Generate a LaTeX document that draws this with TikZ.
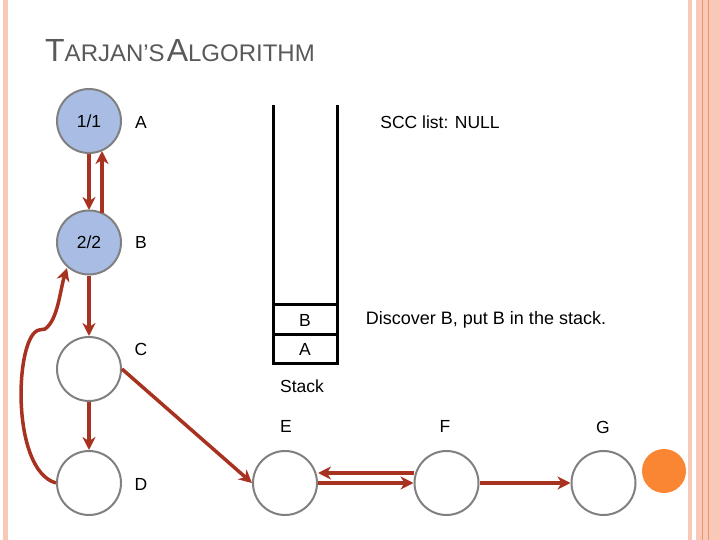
\documentclass[tikz,border=0pt]{standalone}
\usepackage{fontspec}
\setmainfont{Liberation Sans}
\usetikzlibrary{arrows.meta}
\definecolor{arr}{RGB}{168,50,32}
\definecolor{nodeblue}{RGB}{169,189,228}
\definecolor{ringgray}{RGB}{128,128,128}
\definecolor{pinkband}{RGB}{249,200,182}
\definecolor{orangeline}{RGB}{236,150,110}
\definecolor{titlegray}{RGB}{89,89,89}
\definecolor{dot}{RGB}{250,134,52}
\begin{document}
\begin{tikzpicture}[x=1pt,y=-1pt,
  vert/.style={circle,draw=ringgray,line width=2pt,minimum size=64pt,inner sep=0pt,fill=white,font=\fontsize{17.5}{17.5}\selectfont},
  visited/.style={vert,fill=nodeblue},
  lbl/.style={font=\fontsize{17.5}{17.5}\selectfont,inner sep=0pt},
  edge/.style={draw=arr,line width=3.5pt,-{Stealth[length=13pt,width=13pt,inset=4pt]}},
  stackline/.style={line width=3pt,black}]
\useasboundingbox (0,0) rectangle (720,540);
% borders
\fill[pinkband] (3,0) rectangle (8,540);
\fill[pinkband] (688,0) rectangle (692,540);
\fill[pinkband] (696,0) rectangle (720,540);
\draw[orangeline,line width=1pt] (702,0) -- (702,540);
\draw[orangeline,line width=1pt] (708.5,0) -- (708.5,540);
% title
\node[anchor=base west,inner sep=0pt,text=titlegray] (title) at (45,62)
  {\fontsize{32}{32}\selectfont T\fontsize{24}{24}\selectfont ARJAN’S\hspace{2pt}\fontsize{32}{32}\selectfont A\fontsize{24}{24}\selectfont LGORITHM};
% vertices
\node[visited] (A) at (89,121) {1/1};
\node[visited] (B) at (89,242.5) {2/2};
\node[vert] (C) at (89,369) {};
\node[vert] (D) at (89,483) {};
\node[vert] (E) at (285,483) {};
\node[vert] (F) at (446.5,483) {};
\node[vert] (G) at (603.5,483) {};
\fill[dot] (664,471) circle (22);
% labels
\node[lbl] (la) at (141,122) {A};
\node[lbl] (lb) at (141,242) {B};
\node[lbl] (lc) at (141,349) {C};
\node[lbl] (ld) at (141,484) {D};
\node[lbl] (le) at (286,426) {E};
\node[lbl] (lf) at (445,426) {F};
\node[lbl] (lg) at (603,427) {G};
\node[lbl] (scc) at (440,122) {SCC list: NULL};
\node[lbl,font=\fontsize{18}{18}\selectfont] (msg) at (486,320) {Discover B, put B in the stack.};
% stack
\coordinate (s1) at (273,107);
\coordinate (s2) at (273,363);
\coordinate (s3) at (337,363);
\coordinate (s4) at (337,107);
\draw[stackline,line cap=rect] (s1) -- (s2) -- (s3) -- (s4);
\draw[stackline] (273,304) -- (337,304);
\draw[stackline] (273,334) -- (337,334);
\node[lbl] (sb) at (305,320) {B};
\node[lbl] (sa) at (305,349) {A};
\node[lbl] (stk) at (302,386) {Stack};
% edges
\draw[edge] (89,154) -- (89,210);
\draw[edge] (102,213) -- (102,151);
\draw[edge] (B) -- (C);
\draw[edge] (C) -- (D);
\draw[edge] (C.east) -- (E.west);
\draw[edge] (F.west |- 0,473) -- (E.east |- 0,473);
\draw[edge] (E.east |- 0,483) -- (F);
\draw[edge] (F) -- (G);
\draw[edge] (D.west) .. controls (10,470) and (15,335) .. (39,330) -- (45,329) .. controls (58,320) and (60,290) .. (67,268);
\end{tikzpicture}
\end{document}
